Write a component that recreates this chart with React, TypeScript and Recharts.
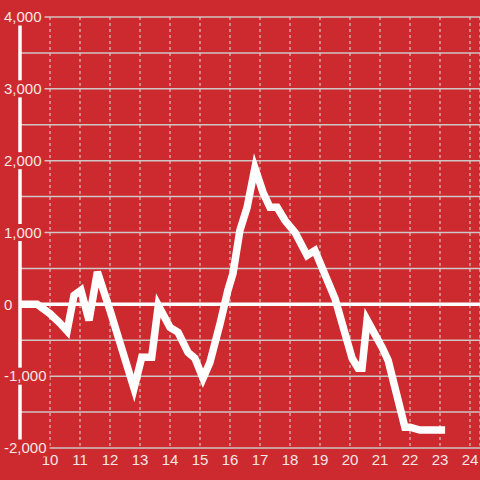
import React from 'react'
import {
    LineChart,
    Line,
    XAxis,
    YAxis,
    CartesianGrid,
    ReferenceLine,
} from 'recharts'

const RED = '#cc2a2f'
const TEXT = '#f5e6e6'
const FONT = '"Liberation Sans", Arial, sans-serif'

// hours of the day
const hours = [
    9.0, 9.57, 10.0, 10.33, 10.57, 10.8, 11.03, 11.3, 11.58, 12.0, 12.8, 13.06,
    13.39, 13.61, 14.0, 14.27, 14.6, 14.83, 15.1, 15.33, 15.67, 15.93, 16.1,
    16.33, 16.57, 16.83, 17.1, 17.33, 17.57, 17.83, 18.17, 18.57, 18.83, 19.5,
    20.07, 20.27, 20.4, 20.57, 21.07, 21.27, 21.83, 22.0, 22.33, 23.17,
]
const values = [
    0, 0, -130, -260, -370, 125, 195, -222, 450, -85, -1170, -735, -735, -15,
    -320, -390, -670, -750, -1030, -810, -265, 195, 430, 1030, 1350, 1900, 1560,
    1350, 1350, 1170, 1000, 680, 750, 80, -750, -890, -890, -220, -600, -780,
    -1710, -1710, -1750, -1750,
]
const xTicks = [10, 11, 12, 13, 14, 15, 16, 17, 18, 19, 20, 21, 22, 23, 24]
const yTicks = [
    -2000, -1500, -1000, -500, 0, 500, 1000, 1500, 2000, 2500, 3000, 3500, 4000,
]

const data = hours.map((t, i) => ({ t, v: values[i] }))

const charW = (s: string) =>
    s.split('').reduce((w, c) => w + (c === ',' ? 4.17 : c === '-' ? 5 : 8.34), 0)

const YTick = (props: any) => {
    const { y, payload } = props
    const val = payload.value as number
    if (val % 1000 !== 0) return <g />
    const label = val.toLocaleString('en-US')
    const w = charW(label)
    return (
        <g>
            <rect x={2} y={y - 8.5} width={w + 5} height={17} fill={RED} />
            <text
                x={4}
                y={y}
                dy='0.35em'
                textAnchor='start'
                fill={TEXT}
                fontSize={15}
                fontFamily={FONT}
            >
                {label}
            </text>
        </g>
    )
}

const App: React.FC = () => {
    return (
        <div
            style={{
                position: 'absolute',
                top: 0,
                left: 0,
                width: 480,
                height: 480,
                background: RED,
            }}
        >
            <LineChart
                width={480}
                height={480}
                data={data}
                margin={{ top: 17, right: 0, bottom: 0, left: 0 }}
            >
                <CartesianGrid
                    vertical={false}
                    stroke='#cfc6c6'
                    strokeWidth={1.5}
                />
                <CartesianGrid
                    horizontal={false}
                    stroke='#e8d8d8'
                    strokeDasharray='3 3'
                />
                <XAxis
                    type='number'
                    dataKey='t'
                    domain={[9, 24.333]}
                    ticks={xTicks}
                    allowDataOverflow
                    axisLine={false}
                    tickLine={false}
                    height={32}
                    tickMargin={0}
                    tick={{ fill: TEXT, fontSize: 15, fontFamily: FONT }}
                />
                <YAxis
                    type='number'
                    domain={[-2000, 4000]}
                    ticks={yTicks}
                    width={20}
                    interval={0}
                    axisLine={{ stroke: '#ffffff', strokeWidth: 3.5 }}
                    tickLine={false}
                    tick={<YTick />}
                />
                <ReferenceLine y={0} stroke='#ffffff' strokeWidth={3.5} />
                <Line
                    type='linear'
                    dataKey='v'
                    stroke='#ffffff'
                    strokeWidth={7.5}
                    dot={false}
                    isAnimationActive={false}
                />
            </LineChart>
        </div>
    )
}

export default App
